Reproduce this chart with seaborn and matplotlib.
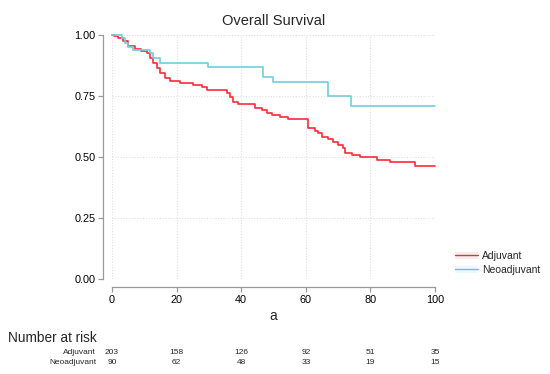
import matplotlib
matplotlib.use("Agg")
import matplotlib.pyplot as plt
import numpy as np
import pandas as pd
import seaborn as sns
from matplotlib.lines import Line2D
from matplotlib.patches import Patch

# Kaplan-Meier step points (time, survival)
adj_time = [0, 0.6, 2, 3.4, 5, 7, 9, 10.7, 11.8, 12.7, 13.8, 14.9, 16.4, 18, 21, 25,
            27.8, 29.5, 35.5, 36.5, 37.5, 39, 44.3, 46.3, 47.9, 49.4, 52, 54.6, 60.8,
            62.8, 63.9, 64.9, 67, 68.5, 70, 71.6, 72.2, 74.2, 76.8, 82, 86, 93.7, 100]
adj_surv = [1.0, 0.995, 0.988, 0.975, 0.955, 0.944, 0.936, 0.926, 0.906, 0.885, 0.865,
            0.844, 0.824, 0.813, 0.803, 0.797, 0.787, 0.776, 0.761, 0.747, 0.727, 0.716,
            0.70, 0.693, 0.679, 0.672, 0.665, 0.654, 0.617, 0.607, 0.597, 0.583, 0.572,
            0.563, 0.549, 0.536, 0.518, 0.508, 0.499, 0.488, 0.478, 0.465, 0.465]
neo_time = [0, 3, 4, 5, 6.6, 11.8, 12.8, 14.9, 29.8, 46.8, 49.9, 67, 73.9, 100]
neo_surv = [1.0, 0.986, 0.966, 0.952, 0.939, 0.925, 0.904, 0.887, 0.870, 0.829, 0.809,
            0.75, 0.711, 0.711]

risk_times = [0, 20, 40, 60, 80, 100]
risk_adj = [203, 158, 126, 92, 51, 35]
risk_neo = [90, 62, 48, 33, 19, 15]

df = pd.concat([
    pd.DataFrame({"t": adj_time, "S": adj_surv, "group": "Adjuvant"}),
    pd.DataFrame({"t": neo_time, "S": neo_surv, "group": "Neoadjuvant"}),
])

sns.set_style("white")
plt.rcParams['font.family'] = ['Liberation Sans', 'DejaVu Sans']

fig = plt.figure(figsize=(5.5, 3.74), dpi=100)
ax = fig.add_axes([112 / 550, 1 - 279 / 374, 323 / 550, 244 / 374])

sns.lineplot(data=df, x="t", y="S", hue="group", estimator=None, sort=False,
             drawstyle="steps-post", palette={"Adjuvant": "#ff2b3a", "Neoadjuvant": "#72cde0"},
             linewidth=1.2, legend=False, clip_on=False, ax=ax)

ax.set_xlim(0, 100)
ax.set_ylim(0, 1)
ax.set_xticks(risk_times)
ax.set_yticks([0, 0.25, 0.5, 0.75, 1.0])
ax.set_yticklabels(["0.00", "0.25", "0.50", "0.75", "1.00"])
ax.grid(True, color="#e0e0e0", linestyle=(0, (1, 1.5)), linewidth=0.8)
ax.set_axisbelow(True)

for s in ["top", "right"]:
    ax.spines[s].set_visible(False)
ax.spines["left"].set_position(("outward", 6.5))
ax.spines["bottom"].set_position(("outward", 5.8))
ax.spines["left"].set_bounds(0, 1)
ax.spines["bottom"].set_bounds(0, 100)
for s in ["left", "bottom"]:
    ax.spines[s].set_color("#999999")
    ax.spines[s].set_linewidth(0.9)
ax.tick_params(axis="both", length=3.5, width=0.9, color="#999999", labelsize=7.8,
               labelcolor="black", pad=2, left=True, bottom=True)

ax.set_xlabel("a", fontsize=10, labelpad=3)
ax.set_ylabel("")
ax.set_title("Overall Survival", fontsize=10.5, pad=7)

# legend: stata-like handles (faint patch with a thin line)
h_adj = (Patch(facecolor="#ffe8f2", edgecolor="none"), Line2D([], [], color="#9a5a2a", lw=1))
h_neo = (Patch(facecolor="#e8fbff", edgecolor="none"), Line2D([], [], color="#9aa6e2", lw=1))
fig.legend([h_adj, h_neo], ["Adjuvant", "Neoadjuvant"], loc="center left",
           bbox_to_anchor=(446 / 550, 1 - 263 / 374), frameon=False, fontsize=7.5,
           handlelength=2.2, handletextpad=0.4, labelspacing=0.4)

# number at risk table
fig.text(8 / 550, 1 - 338 / 374, "Number at risk", fontsize=9.8, va="center", ha="left")
for label, vals, ypx in [("Adjuvant", risk_adj, 352), ("Neoadjuvant", risk_neo, 362)]:
    fig.text(96 / 550, 1 - ypx / 374, label, fontsize=6, va="center", ha="right")
    for t, v in zip(risk_times, vals):
        xpx = 112 + t * 3.23
        fig.text(xpx / 550, 1 - ypx / 374, str(v), fontsize=6, va="center", ha="center")

fig.savefig("out.png", dpi=100)
